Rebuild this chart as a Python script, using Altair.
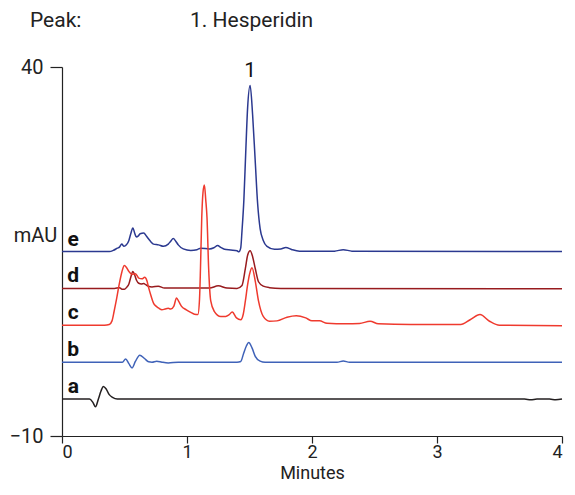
import altair as alt
import pandas as pd

FONT = "Roboto, Liberation Sans, sans-serif"

# Trace offsets (mAU) for the stacked chromatograms
trace_names = ["a", "b", "c", "d", "e"]
trace_offsets = [-5, 0, 5, 10, 15]
trace_colors = ["#231f20", "#3f62b8", "#ef3a2e", "#981b1e", "#2b3990"]

# Values (time in minutes, signal relative to trace baseline)
a_t = [0, 0.22, 0.247, 0.268, 0.291, 0.312, 0.331, 0.352, 0.378, 0.404, 0.443, 3.7, 3.75, 3.8, 3.9, 3.95, 4.0]
a_v = [0, 0, -0.45, -1.05, 0, 1.1, 1.7, 1.4, 0.6, 0.23, 0, 0, -0.1, 0, 0, -0.1, 0]

b_t = [0, 0.483, 0.509, 0.535, 0.561, 0.587, 0.622, 0.66, 0.693, 0.72, 0.758, 0.8, 0.85, 0.93,
       1.4, 1.43, 1.454, 1.475, 1.494, 1.52, 1.546, 1.585, 1.625, 2.2, 2.25, 2.3, 4.0]
b_v = [0, 0, 0.45, -0.2, -0.77, 0.1, 0.95, 0.5, 0.05, 0, 0.14, 0, -0.1, 0,
       0, 0.1, 1.26, 2.2, 2.67, 1.95, 0.8, 0.15, 0, 0, 0.15, 0, 0]

c_t = [0, 0.34, 0.378, 0.40, 0.417, 0.437, 0.457, 0.48, 0.499, 0.517, 0.535, 0.56, 0.588, 0.614,
       0.64, 0.661, 0.68, 0.693, 0.712, 0.732, 0.752, 0.772, 0.80, 0.824, 0.85, 0.87, 0.895, 0.916,
       0.935, 0.955, 0.995, 1.03, 1.06, 1.087, 1.10, 1.108, 1.118, 1.128, 1.139, 1.15, 1.16, 1.173,
       1.19, 1.218, 1.27, 1.31, 1.335, 1.362, 1.396, 1.43, 1.45, 1.467, 1.485, 1.50, 1.52, 1.546,
       1.572, 1.61, 1.66, 1.72, 1.80, 1.874, 1.95, 2.0, 2.06, 2.12, 2.27, 2.38, 2.465, 2.53, 2.79,
       3.19, 3.265, 3.344, 3.42, 3.5, 4.0]
c_v = [0, 0, 0.1, 0.6, 1.9, 3.6, 5.5, 7.3, 8.1, 7.8, 7.3, 6.9, 7.0, 6.4,
       6.3, 6.5, 6.0, 5.1, 4.0, 3.0, 2.6, 2.35, 2.1, 2.2, 2.3, 2.2, 2.6, 3.7,
       3.2, 2.6, 2.1, 1.75, 1.5, 1.45, 3.5, 7.8, 14.6, 18.0, 19.0, 17.0, 14.6, 7.8,
       3.3, 1.9, 1.2, 1.2, 1.4, 1.8, 1.0, 0.76, 1.5, 3.3, 5.5, 6.9, 7.8, 6.0,
       3.3, 1.2, 0.55, 0.6, 1.1, 1.3, 1.0, 0.6, 0.6, 0.27, 0.2, 0.25, 0.55, 0.2, 0.1,
       0.1, 0.75, 1.45, 0.55, 0.0, -0.05]

d_t = [0, 0.42, 0.46, 0.48, 0.50, 0.52, 0.535, 0.55, 0.567, 0.58, 0.596, 0.614, 0.635, 0.654,
       0.67, 0.69, 0.72, 0.77, 0.82, 1.18, 1.25, 1.32, 1.40, 1.44, 1.467, 1.485, 1.505, 1.525,
       1.546, 1.572, 1.61, 1.66, 1.75, 4.0]
d_v = [0, 0, 0.1, -0.1, -0.1, 0.2, 0.6, 1.5, 2.3, 1.9, 1.1, 0.7, 0.6, 0.65,
       0.5, 0.3, 0.2, 0.3, 0.05, 0.05, 0.35, 0.05, 0.0, 0.4, 2.7, 4.5, 5.1, 4.3,
       2.7, 0.9, 0.3, 0.1, 0.0, -0.05]

e_t = [0, 0.38, 0.41, 0.443, 0.46, 0.478, 0.496, 0.515, 0.535, 0.55, 0.567, 0.583, 0.596, 0.61,
       0.625, 0.654, 0.675, 0.693, 0.712, 0.732, 0.772, 0.811, 0.85, 0.87, 0.89, 0.91, 0.93, 0.97,
       1.03, 1.08, 1.11, 1.18, 1.215, 1.245, 1.27, 1.30, 1.35, 1.40, 1.415, 1.43, 1.44, 1.455, 1.47,
       1.485, 1.505, 1.525, 1.545, 1.565, 1.585, 1.61, 1.64, 1.70, 1.75, 1.79, 1.84, 1.90, 2.18,
       2.25, 2.32, 4.0]
e_v = [0, 0, 0.15, 0.45, 0.6, 1.0, 0.7, 0.9, 1.5, 2.4, 3.2, 2.4, 1.95, 2.1,
       2.4, 2.5, 2.1, 1.7, 1.3, 1.0, 0.9, 0.7, 1.0, 1.4, 1.75, 1.4, 0.9, 0.36,
       0.15, 0.25, 0.45, 0.35, 0.5, 0.8, 0.55, 0.3, 0.2, 0.1, -0.05, 0.5, 2.8, 7.0, 13.5,
       19.5, 22.5, 18.5, 12.5, 6.5, 3.1, 1.5, 0.7, 0.3, 0.35, 0.55, 0.25, 0.05, 0.05,
       0.25, 0.05, 0.0]

series = {"a": (a_t, a_v), "b": (b_t, b_v), "c": (c_t, c_v), "d": (d_t, d_v), "e": (e_t, e_v)}
draw_order = ["a", "b", "e", "d", "c"]

x_scale = alt.Scale(domain=[0, 4], nice=False)
y_scale = alt.Scale(domain=[-10, 40], nice=False, zero=False)

x_axis = alt.Axis(values=[0, 1, 2, 3, 4], format="d", title="Minutes", grid=False,
                  tickSize=7, labelPadding=0, labelFontSize=18, titleFontSize=18,
                  titleFontWeight="normal", titleY=46, titleBaseline="bottom",
                  labelFont=FONT, titleFont=FONT, domainColor="#222", tickColor="#222",
                  labelColor="#222", titleColor="#222", domainWidth=1.2, tickWidth=1.2)
y_axis = alt.Axis(values=[-10, 40], title="mAU", grid=False, tickSize=12,
                  labelPadding=7, labelFontSize=20, titleFontSize=20,
                  titleFontWeight="normal", titleAngle=0, titleX=-27, titleY=168,
                  titleAlign="center", titleBaseline="middle", labelFont=FONT,
                  titleFont=FONT, domainColor="#222", tickColor="#222",
                  labelColor="#222", titleColor="#222", domainWidth=1.2, tickWidth=1.2)

layers = []
for name in draw_order:
    idx = trace_names.index(name)
    t, v = series[name]
    off = trace_offsets[idx]
    df = pd.DataFrame({"t": t, "mAU": [val + off for val in v]})
    layers.append(
        alt.Chart(df).mark_line(interpolate="monotone", strokeWidth=1.5,
                                color=trace_colors[idx]).encode(
            x=alt.X("t:Q", scale=x_scale, axis=x_axis),
            y=alt.Y("mAU:Q", scale=y_scale, axis=y_axis))
    )

# Trace letters
label_x = [0.09, 0.09, 0.09, 0.09, 0.09]
label_y = [off + 0.8 for off in trace_offsets]
labels_df = pd.DataFrame({"t": label_x, "mAU": label_y, "txt": trace_names})
labels = alt.Chart(labels_df).mark_text(font=FONT, fontSize=21, fontWeight="bold",
                                        align="center", baseline="alphabetic",
                                        color="#111").encode(
    x=alt.X("t:Q", scale=x_scale, axis=x_axis),
    y=alt.Y("mAU:Q", scale=y_scale, axis=y_axis), text="txt:N")

# Peak number label
peak_df = pd.DataFrame({"t": [1.505], "mAU": [38.6], "txt": ["1"]})
peak = alt.Chart(peak_df).mark_text(font=FONT, fontSize=21, align="center",
                                    baseline="alphabetic", color="#111").encode(
    x=alt.X("t:Q", scale=x_scale, axis=x_axis),
    y=alt.Y("mAU:Q", scale=y_scale, axis=y_axis), text="txt:N")

# Header text
head_txt = ["Peak:", "1. Hesperidin"]
head_px = [-32, 128]
header = alt.layer(*[
    alt.Chart(pd.DataFrame({"txt": [s]})).mark_text(
        font=FONT, fontSize=21, align="left", baseline="middle", color="#222").encode(
        x=alt.value(px), y=alt.value(-46), text="txt:N")
    for s, px in zip(head_txt, head_px)
])

chart = alt.layer(*layers, labels, peak, header).properties(
    width=500, height=369,
    padding={"left": 54, "top": 59, "right": 5, "bottom": 46},
    autosize=alt.AutoSizeParams(type="none"),
).configure_view(stroke=None)

chart.save("out.html", embed_options={"renderer": "svg", "actions": False})
